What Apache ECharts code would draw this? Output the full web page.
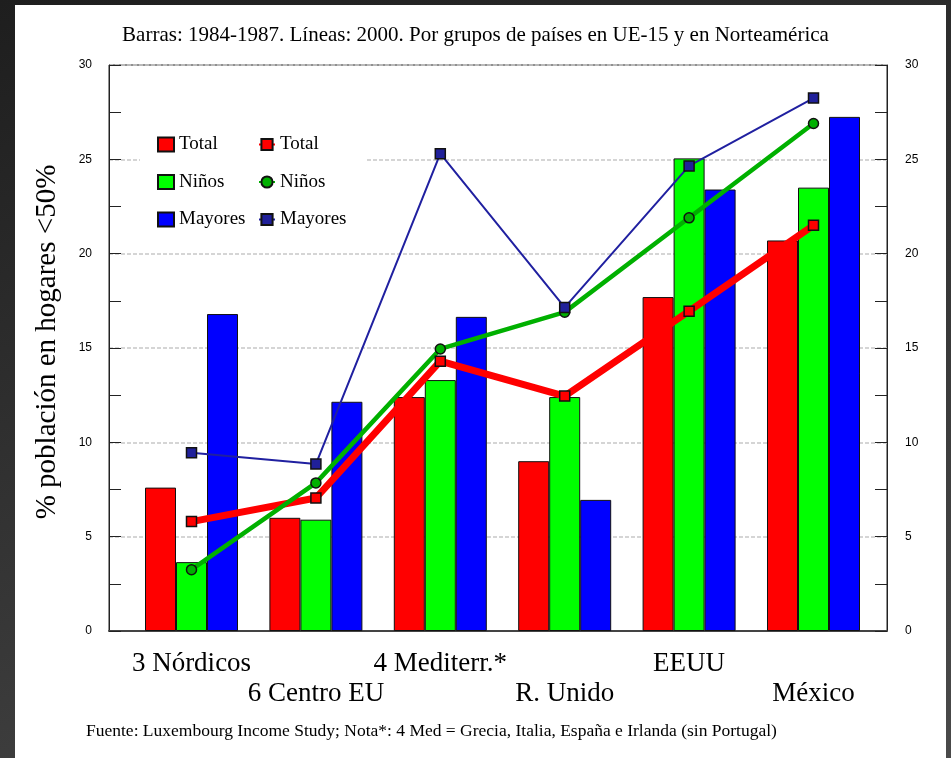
<!DOCTYPE html>
<html>
<head>
<meta charset="utf-8">
<script src="https://cdn.jsdelivr.net/npm/echarts@6/dist/echarts.min.js"></script>
<style>
  html, body { margin: 0; padding: 0; }
  #wrap { position: relative; width: 951px; height: 758px; background: linear-gradient(160deg, #1e1e1e, #4a4a4a); }
  #panel { position: absolute; left: 15px; top: 5px; width: 931px; height: 753px; background: #fff; }
  #chart { position: absolute; left: 0; top: 0; width: 951px; height: 758px; }
</style>
</head>
<body>
<div id="wrap">
  <div id="panel"></div>
  <div id="chart"></div>
</div>
<script>
// categorías (grupos de países)
const categories = ['3 Nórdicos', '6 Centro EU', '4 Mediterr.*', 'R. Unido', 'EEUU', 'México']

// barras: 1984-1987
const barTotal = [7.6, 6.0, 12.4, 9.0, 17.7, 20.7]
const barNinos = [3.65, 5.9, 13.3, 12.4, 25.05, 23.5]
const barMayores = [16.8, 12.15, 16.65, 6.95, 23.4, 27.25]

// líneas: 2000
const lineTotal = [5.8, 7.05, 14.3, 12.45, 16.95, 21.5]
const lineNinos = [3.25, 7.85, 14.95, 16.9, 21.9, 26.9]
const lineMayores = [9.45, 8.85, 25.3, 17.15, 24.65, 28.25]

const yTicks = { min: 0, max: 30, interval: 5 }

const serif = 'Liberation Serif'
const sans = 'Liberation Sans'

const chart = echarts.init(document.getElementById('chart'))

const barSeries = (name, data, color) => ({
  type: 'bar',
  name: name,
  xAxisIndex: 1,
  yAxisIndex: 2,
  data: data,
  barWidth: 31,
  barGap: '0%',
  itemStyle: { color: color, borderColor: '#111', borderWidth: 1 },
  z: 2
})

const lineSeries = (name, data, color, width, symbol, fill) => ({
  type: 'line',
  name: name,
  xAxisIndex: 1,
  yAxisIndex: 2,
  data: data,
  symbol: symbol,
  symbolSize: 10,
  lineStyle: { color: color, width: width },
  itemStyle: { color: fill, borderColor: '#111', borderWidth: 1.5 },
  z: 5
})

const legendText = { fontFamily: serif, fontSize: 19, color: '#000' }

const option = {
  animation: false,
  title: {
    text: 'Barras: 1984-1987. Líneas: 2000. Por grupos de países en UE-15 y en Norteamérica',
    left: 'center',
    top: 20,
    textStyle: { fontFamily: serif, fontSize: 21, fontWeight: 'normal', color: '#000' }
  },
  legend: [
    {
      // barras
      data: ['Total', 'Niños', 'Mayores'],
      orient: 'vertical',
      left: 140,
      top: 125,
      padding: [10, 14, 10, 17],
      backgroundColor: '#fff',
      itemWidth: 16,
      itemHeight: 14,
      itemGap: 18.5,
      icon: 'rect',
      selectedMode: false,
      textStyle: legendText
    },
    {
      // líneas
      data: ['Total 2000', 'Niños 2000', 'Mayores 2000'],
      orient: 'vertical',
      left: 258,
      top: 125,
      padding: [10, 20, 10, 0],
      backgroundColor: '#fff',
      itemWidth: 16,
      itemHeight: 14,
      itemGap: 18.5,
      selectedMode: false,
      formatter: n => n.replace(' 2000', ''),
      textStyle: legendText
    }
  ],
  grid: [
    { left: 109, top: 65, width: 778, height: 566, show: true, borderColor: '#222', borderWidth: 1, backgroundColor: 'transparent' },
    { left: 129.3, top: 65, width: 746.4, height: 566 }
  ],
  xAxis: [
    {
      type: 'value', gridIndex: 0, min: 0, max: 1,
      axisLine: { show: true, lineStyle: { color: '#444', width: 2 } },
      axisTick: { show: false }, axisLabel: { show: false }, splitLine: { show: false }
    },
    {
      type: 'category', gridIndex: 1, data: categories,
      axisLine: { show: false }, axisTick: { show: false },
      axisLabel: {
        interval: 0,
        margin: 18,
        fontFamily: serif,
        fontSize: 27,
        lineHeight: 30,
        color: '#000',
        formatter: (v, i) => (i % 2 ? '\n' + v : v)
      }
    }
  ],
  yAxis: [
    {
      type: 'value', gridIndex: 0, position: 'left',
      min: yTicks.min, max: yTicks.max, interval: yTicks.interval,
      axisLine: { show: true, lineStyle: { color: '#222', width: 1 } },
      axisTick: { inside: true, length: 12, lineStyle: { color: '#222' } },
      minorTick: { show: true, splitNumber: 2, length: 12, lineStyle: { color: '#222' } },
      splitLine: { show: true, lineStyle: { color: '#c8c8c8', type: [4, 2], width: 1.5 } },
      axisLabel: { margin: 17, fontFamily: sans, fontSize: 12, color: '#000' }
    },
    {
      type: 'value', gridIndex: 0, position: 'right',
      min: yTicks.min, max: yTicks.max, interval: yTicks.interval,
      axisLine: { show: true, lineStyle: { color: '#222', width: 1 } },
      axisTick: { inside: true, length: 12, lineStyle: { color: '#222' } },
      minorTick: { show: true, splitNumber: 2, length: 12, lineStyle: { color: '#222' } },
      splitLine: { show: false },
      axisLabel: { margin: 18, fontFamily: sans, fontSize: 12, color: '#000' }
    },
    {
      type: 'value', gridIndex: 1, min: yTicks.min, max: yTicks.max, show: false
    }
  ],
  graphic: [
    {
      type: 'text',
      x: 47,
      y: 342,
      rotation: Math.PI / 2,
      style: {
        text: '% población en hogares <50%',
        font: '29px "Liberation Serif"',
        fill: '#000',
        align: 'center',
        verticalAlign: 'middle',
        textAlign: 'center',
        textVerticalAlign: 'middle'
      }
    },
    {
      type: 'text',
      x: 86,
      y: 731,
      style: {
        text: 'Fuente: Luxembourg Income Study; Nota*: 4 Med = Grecia, Italia, España e Irlanda (sin Portugal)',
        font: '17.5px "Liberation Serif"',
        fill: '#000',
        align: 'left',
        verticalAlign: 'middle',
        textAlign: 'left',
        textVerticalAlign: 'middle'
      }
    }
  ],
  series: [
    barSeries('Total', barTotal, '#ff0000'),
    barSeries('Niños', barNinos, '#00ff00'),
    barSeries('Mayores', barMayores, '#0000ff'),
    lineSeries('Total 2000', lineTotal, '#ff0000', 7, 'rect', '#ff0000'),
    lineSeries('Niños 2000', lineNinos, '#00b000', 4.5, 'circle', '#00b000'),
    lineSeries('Mayores 2000', lineMayores, '#2020a0', 2, 'rect', '#20209a')
  ]
}

chart.setOption(option)
</script>
</body>
</html>
